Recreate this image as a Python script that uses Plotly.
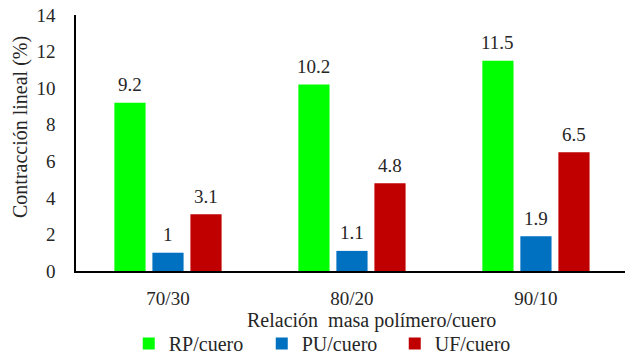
import plotly.graph_objects as go

# Relación masa polímero/cuero and linear shrinkage per composite
categories = ["70/30", "80/20", "90/10"]
series_names = ["RP/cuero", "PU/cuero", "UF/cuero"]
rp_values = [9.2, 10.2, 11.5]
pu_values = [1.0, 1.1, 1.9]
uf_values = [3.1, 4.8, 6.5]
y_ticks = [0, 2, 4, 6, 8, 10, 12, 14]

colors = ["#00FF00", "#0070C0", "#C00000"]
all_values = [rp_values, pu_values, uf_values]

FONT = "Liberation Serif"
TXT = "#262626"

BARGAP = 0.38
BARGROUPGAP = 0.18

fig = go.Figure()
for name, vals, col in zip(series_names, all_values, colors):
    fig.add_trace(go.Bar(
        x=categories, y=vals, name=name,
        marker=dict(color=col, line=dict(width=0)),
    ))

# value labels above each bar, centred on the bar within its group
n = len(all_values)
slot = (1 - BARGAP) / n
for i, vals in enumerate(all_values):
    offset = -(1 - BARGAP) / 2 + slot * (i + 0.5)
    for j, v in enumerate(vals):
        fig.add_annotation(
            x=j + offset, y=v, xref="x", yref="y",
            text=f"{v:g}", showarrow=False, yshift=18,
            font=dict(family=FONT, size=19, color=TXT),
        )

# axis titles
fig.add_annotation(
    x=0.539, y=-0.193, xref="paper", yref="paper",
    xanchor="center", yanchor="middle",
    text="Relación  masa polímero/cuero", showarrow=False,
    font=dict(family=FONT, size=20, color=TXT),
)
fig.add_annotation(
    x=-0.102, y=0.5625, xref="paper", yref="paper",
    xanchor="center", yanchor="middle", textangle=-90,
    text="Contracción lineal (%)", showarrow=False,
    font=dict(family=FONT, size=20, color=TXT),
)

fig.update_layout(
    width=625, height=360,
    margin=dict(l=76, r=0, t=15, b=89, autoexpand=False),
    paper_bgcolor="white", plot_bgcolor="white",
    barmode="group", bargap=BARGAP, bargroupgap=BARGROUPGAP,
    showlegend=True,
    legend=dict(
        orientation="h", xref="container", yref="container",
        x=0.206, xanchor="left", y=0.1, yanchor="top",
        entrywidth=88, entrywidthmode="pixels",
        font=dict(family=FONT, size=20, color=TXT),
        traceorder="normal",
    ),
    font=dict(family=FONT, size=20, color=TXT),
    xaxis=dict(
        type="category", range=[-0.5, 2.484], automargin=False,
        showline=True, linecolor="black", linewidth=2,
        ticks="", showgrid=False, zeroline=False,
        tickfont=dict(family=FONT, size=19, color=TXT),
        ticklabelstandoff=9,
    ),
    yaxis=dict(
        range=[0, 14], tickvals=y_ticks, automargin=False,
        showline=True, linecolor="black", linewidth=1.5,
        ticks="", ticklen=0, showgrid=False, zeroline=False,
        tickfont=dict(family=FONT, size=19, color=TXT),
        ticklabelstandoff=15,
    ),
)

fig.write_html("out.html")
